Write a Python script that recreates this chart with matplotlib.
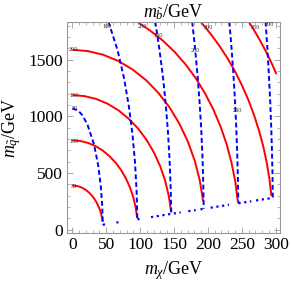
import matplotlib
matplotlib.use("Agg")
import matplotlib.pyplot as plt
from matplotlib.ticker import MultipleLocator

plt.rcParams["font.family"] = ["Liberation Serif", "DejaVu Serif"]
plt.rcParams["mathtext.fontset"] = "custom"
plt.rcParams["mathtext.rm"] = "Liberation Serif"
plt.rcParams["mathtext.it"] = "Liberation Serif:italic"

# red contours (m_sbottom levels)
red_levels = [50, 100, 150, 200, 250, 300, 350]
red_x = [
    [0.0, 5.3, 10.5, 15.5, 20.3, 24.9, 29.2, 33.0, 36.4, 39.3, 41.7, 43.5, 44.8],
    [0.0, 11.5, 22.9, 33.9, 44.5, 54.4, 63.5, 71.8, 79.0, 85.0, 89.9, 93.4, 95.6],
    [0.0, 17.6, 34.9, 51.8, 67.9, 83.0, 96.9, 109.5, 120.4, 129.7, 137.0, 142.4, 145.7],
    [0.0, 23.0, 45.6, 67.6, 88.7, 108.6, 126.9, 143.5, 158.1, 170.5, 180.6, 188.1, 193.0],
    [95.6, 114.9, 133.3, 150.8, 167.1, 182.1, 195.7, 207.9, 218.5, 227.5, 234.7, 240.3, 243.9],
    [189.8, 203.6, 216.6, 228.8, 240.1, 250.4, 259.8, 268.1, 275.4, 281.7, 286.8, 290.8, 293.7],
    [260.7, 264.5, 268.2, 271.8, 275.4, 278.9, 282.3, 285.6, 288.9, 292.0, 295.1, 298.1, 301.0],
]
red_y = [
    [391, 388, 381, 368, 350, 327, 300, 269, 235, 197, 157, 114, 70],
    [790, 784, 767, 740, 701, 652, 595, 528, 454, 374, 288, 198, 105],
    [1189, 1180, 1155, 1113, 1055, 981, 894, 793, 682, 560, 431, 295, 158],
    [1588, 1577, 1544, 1490, 1415, 1321, 1208, 1079, 934, 777, 609, 432, 250],
    [1836, 1757, 1670, 1570, 1459, 1337, 1204, 1063, 913, 757, 594, 428, 258],
    [1831, 1732, 1626, 1514, 1396, 1272, 1144, 1011, 874, 734, 591, 445, 298],
    [1831, 1795, 1759, 1723, 1686, 1648, 1610, 1572, 1533, 1494, 1454, 1414, 1373],
]
red_label_x = [2, 2, 2, 2, 104, 200, 270]
red_label_y = [384, 783, 1189, 1594, 1792, 1783, 1783]

# blue dashed contours
blue_levels = [50, 100, 150, 200, 250, 300]
blue_x = [
    [0.0, 8.7, 14.8, 22.2, 32.0, 37.9, 41.8, 44.0, 45.0],
    [53.3, 66.8, 76.4, 83.5, 88.8, 92.5, 94.8, 95.9],
    [122.3, 128.5, 133.7, 137.8, 141.0, 143.4, 145.0, 145.9],
    [176.8, 181.1, 184.7, 187.7, 190.1, 191.9, 193.1, 193.8],
    [231.6, 234.8, 237.6, 239.8, 241.7, 243.1, 244.2, 244.8],
    [285.0, 287.6, 289.7, 291.6, 293.1, 294.3, 295.2, 295.7],
]
blue_y = [
    [1071, 1051, 1011, 931, 754, 577, 399, 222, 45],
    [1836, 1583, 1334, 1086, 838, 590, 341, 93],
    [1836, 1589, 1348, 1106, 865, 623, 382, 140],
    [1836, 1596, 1361, 1126, 891, 656, 421, 186],
    [1836, 1603, 1375, 1147, 918, 690, 462, 234],
    [1836, 1610, 1388, 1167, 946, 725, 503, 282],
]
blue_label_x = [3, 52, 126, 182, 244, 290]
blue_label_y = [1066, 1792, 1715, 1579, 1056, 1810]

# dotted boundary pieces along m_q ~ m_chi
edge_x0 = [45, 65, 96, 116, 171, 189, 204, 245, 271]
edge_x1 = [53, 68, 103, 160, 182, 197, 231, 264, 296]
edge_y0 = [45, 64, 93, 112, 164, 181, 195, 234, 259]
edge_y1 = [53, 67, 100, 154, 174, 189, 221, 252, 282]

fig = plt.figure(figsize=(2.91, 2.83), dpi=100)
ax = fig.add_axes([0.2313, 0.1767, 0.7309, 0.7466])

for xs, ys in zip(red_x, red_y):
    ax.plot(xs, ys, color="#ff0000", lw=1.4, solid_capstyle="butt")
for xs, ys in zip(blue_x, blue_y):
    ax.plot(xs, ys, color="#0000ff", lw=1.4, linestyle=(0, (2.5, 1.5)))
for x0, x1, y0, y1 in zip(edge_x0, edge_x1, edge_y0, edge_y1):
    ax.plot([x0, x1], [y0, y1], color="#0000ff", lw=1.6, linestyle=(0, (1, 1.6)))

lab_kw = dict(fontsize=4.5, ha="center", va="center", color="#333333")
for lv, x, y in zip(red_levels, red_label_x, red_label_y):
    ax.text(x, y, str(lv), **lab_kw)
for lv, x, y in zip(blue_levels, blue_label_x, blue_label_y):
    ax.text(x, y, str(lv), **lab_kw)

ax.set_xlim(-7.4, 306.3)
ax.set_ylim(-28, 1836)
ax.xaxis.set_major_locator(MultipleLocator(50))
ax.xaxis.set_minor_locator(MultipleLocator(10))
ax.yaxis.set_major_locator(MultipleLocator(500))
ax.yaxis.set_minor_locator(MultipleLocator(100))
ax.tick_params(which="both", direction="in", top=True, right=True, color="#999999",
               labelsize=12.5, pad=3)
ax.tick_params(which="major", length=4, width=0.6)
ax.tick_params(which="minor", length=2, width=0.5)
for s in ax.spines.values():
    s.set_color("#999999")
    s.set_linewidth(0.8)

ax.set_xlabel(r"$m_{\chi}/\mathrm{GeV}$", fontsize=13, labelpad=4)
ax.set_ylabel(r"$m_{\tilde{q}}/\mathrm{GeV}$", fontsize=13, labelpad=4)
ax.set_title(r"$m_{\tilde{b}}/\mathrm{GeV}$", fontsize=13, pad=2)

fig.savefig("out.png", dpi=100)
